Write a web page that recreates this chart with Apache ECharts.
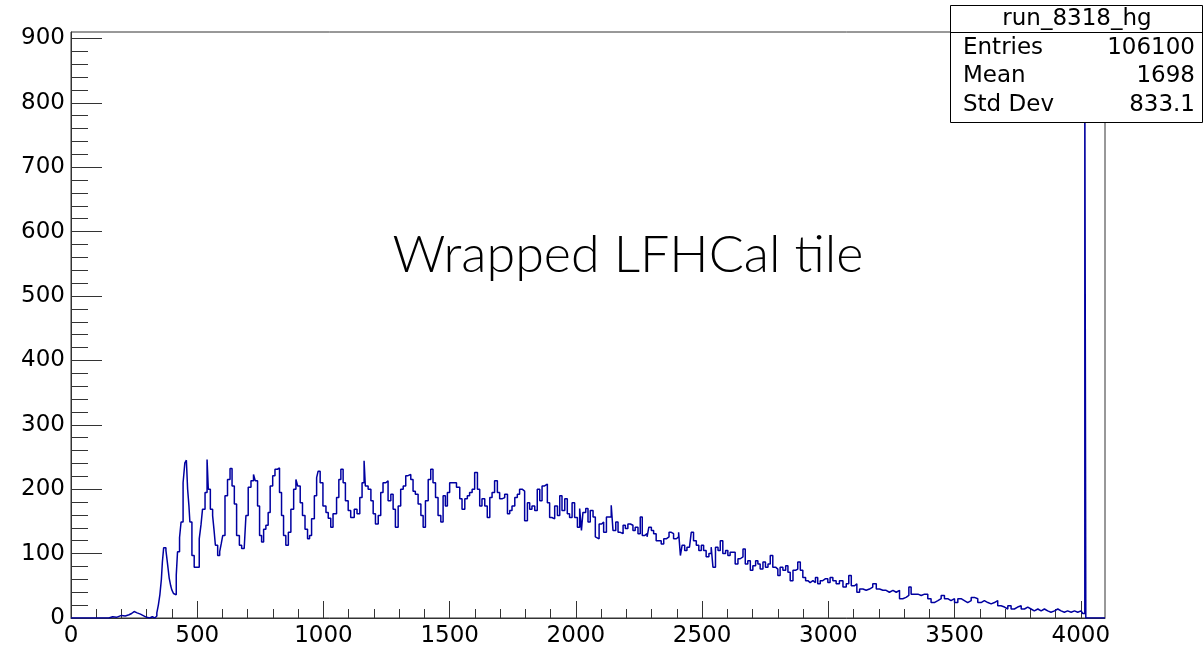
<!DOCTYPE html>
<html>
<head>
<meta charset="utf-8">
<script src="https://cdn.jsdelivr.net/npm/echarts@6/dist/echarts.min.js"></script>
<style>
  html, body { margin: 0; padding: 0; background: #fff; }
  #chart { width: 1204px; height: 648px; }
</style>
</head>
<body>
<div id="chart"></div>
<script>
// ---- Data: histogram bins as [low edge, counts] ----
const pedestalBins = [
  [0,0],[150,2],[165,1],[180,4],[200,3],[215,5],[230,7],[240,10],[250,8],[262,6],
  [275,3],[290,1],[300,0],[312,2],[322,0],[332,3],[340,8],[346,20],[352,36],[358,60]
];
const peakBins = [
  [362,87],[367,109],[376,105],[383,82],[389,62],[395,50],[399,44],[406,38],[412,36],[417,67],
  [422,103],[430,125],[436,149],[444,210],[451,241],[457,245],[462,200],[467,175],[471,149],[479,97],
  [488,79],[499,79],[508,123],[515,145],[521,169],[531,195],[539,246],[544,200],[552,169],[561,159],
  [567,135],[572,113],[581,97],[589,103],[595,115],[601,128],[610,190],[620,215],[630,232],[638,205],
  [647,177],[656,128],[667,113],[676,108],[686,108],[693,159],[702,203],[713,213],[723,223],[730,213],
  [739,174],[747,128],[755,118],[763,138],[772,144],[781,164],[789,205],[799,221],[808,231],[818,233],
  [826,195],[834,159],[842,128],[851,113],[861,133],[871,169],[882,200],[891,215],[898,205],[908,179],
  [917,159],[927,138],[937,123],[945,128],[953,154],[964,190],[973,218],[979,228],[987,210],[998,174],
  [1010,164],[1019,155],[1029,141],[1038,162],[1052,187],[1061,215],[1069,231],[1078,210],[1087,182],[1098,167],
  [1108,156],[1122,169],[1133,162],[1144,187],[1153,210],[1161,244],[1166,205],[1177,200],[1188,182],[1197,162],
  [1206,146],[1217,159],[1227,195],[1236,210],[1247,213],[1256,182],[1267,192],[1276,169],[1285,141],[1296,174],
  [1306,200],[1316,205],[1326,221],[1335,223],[1346,215],[1355,197],[1364,192],[1375,177],[1386,159],[1395,141],
  [1404,182],[1415,215],[1425,231],[1434,210],[1444,187],[1454,159],[1465,149],[1474,190],[1483,174],[1491,195]
];
const plateauBins = [
  [1500,210],[1513,210],[1527,203],[1540,185],[1549,169],[1560,185],[1570,190],[1579,195],[1589,200],[1599,226],
  [1610,200],[1619,174],[1628,185],[1639,174],[1649,156],[1659,187],[1668,195],[1678,213],[1689,195],[1698,185],
  [1707,187],[1718,192],[1729,162],[1738,167],[1747,174],[1758,187],[1768,192],[1777,200],[1787,197],[1797,151],
  [1808,179],[1817,169],[1826,174],[1837,167],[1847,200],[1857,182],[1866,205],[1876,208],[1887,179],[1896,156],
  [1905,154],[1916,174],[1927,159],[1936,190],[1945,167],[1956,185],[1966,162],[1975,156],[1985,179],[1995,156],
  [2006,141],[2015,170],[2022,136],[2028,164],[2039,170],[2048,149],[2057,167],[2068,157],[2077,126],[2084,123],
  [2092,146],[2102,149],[2110,133],[2121,157],[2131,157],[2140,175],[2147,136],[2158,149],[2167,133],[2176,131],
  [2187,144],[2196,139],[2206,146],[2216,144],[2226,136],[2235,141],[2246,131],[2255,157],[2263,128],[2272,131],
  [2282,126],[2289,141],[2299,136],[2308,131],[2318,120],[2329,120],[2338,115],[2348,123],[2358,126],[2369,133],
  [2378,131],[2387,123],[2398,126],[2407,133],[2414,97],[2421,113],[2431,105],[2440,110],[2450,113],[2457,133],
  [2466,120],[2477,113],[2487,105],[2497,113]
];
const tailBins = [
  [2506,105],[2516,95],[2527,100],[2536,110],[2543,79],[2553,110],[2563,105],[2572,120],[2582,100],[2593,105],
  [2602,97],[2611,102],[2622,102],[2631,84],[2642,92],[2651,95],[2662,107],[2671,84],[2681,89],[2691,74],
  [2701,81],[2712,89],[2721,84],[2730,76],[2741,87],[2751,79],[2761,84],[2770,97],[2780,79],[2791,76],
  [2800,66],[2809,79],[2820,74],[2831,81],[2840,71],[2849,58],[2860,74],[2870,76],[2879,87],[2889,74],
  [2899,63],[2910,58],[2919,55],[2928,58],[2939,55],[2949,63],[2958,53],[2968,58],[2978,61],[2989,61],
  [2998,55],[3007,63],[3018,58],[3031,53],[3044,58],[3058,48],[3071,53],[3081,66],[3091,50],[3104,53],
  [3113,40],[3124,45],[3137,43],[3150,45],[3163,48],[3176,53],[3190,45],[3203,43],[3216,43],[3229,40],
  [3242,43],[3256,40],[3269,43],[3282,30],[3295,32],[3308,35],[3319,48],[3328,37],[3341,37],[3355,35],
  [3368,37],[3381,37],[3394,30],[3407,24],[3420,27],[3434,30],[3447,35],[3460,30],[3473,27],[3486,30],
  [3500,24],[3513,30],[3526,27],[3539,24],[3552,27],[3566,32],[3579,30],[3592,24],[3605,27],[3618,24],
  [3632,22],[3645,24],[3658,27],[3671,19],[3684,17],[3698,14],[3711,19],[3724,14],[3737,17],[3750,19],
  [3764,14],[3777,17],[3790,14],[3803,11],[3816,14],[3830,11],[3843,14],[3856,11],[3869,9],[3882,11],
  [3896,14],[3909,11],[3922,9],[3935,11],[3948,9],[3962,11],[3975,9],[3988,11],[4001,9],[4008,7]
];
const overflowBins = [[4016,867],[4020,0],[4096,0]];

const xRange = [0, 4096];
const yRange = [0, 910];
const xMajorTicks = [0, 500, 1000, 1500, 2000, 2500, 3000, 3500, 4000];
const yMajorTicks = [0, 100, 200, 300, 400, 500, 600, 700, 800, 900];
const xMinorStep = 100;
const yMinorStep = 20;

const histName = 'run_8318_hg';
const statLabels = ['Entries', 'Mean', 'Std Dev'];
const statValues = ['106100', '1698', '833.1'];
const chartLabel = 'Wrapped LFHCal tile';

// ---- build ----
const allBins = [].concat(pedestalBins, peakBins, plateauBins, tailBins, overflowBins);
const xMinorTicks = [];
for (let v = xRange[0]; v <= xRange[1]; v += xMinorStep) xMinorTicks.push(v);
const yMinorTicks = [];
for (let v = yRange[0]; v <= yRange[1]; v += yMinorStep) yMinorTicks.push(v);

const FONT = '"DejaVu Sans", "Liberation Sans", Arial, sans-serif';
const AX = '#333';

const chart = echarts.init(document.getElementById('chart'), null, { renderer: 'canvas' });
const gridL = 71, gridT = 32, gridR = 99, gridB = 30;

chart.setOption({
  animation: false,
  backgroundColor: '#fff',
  grid: { left: gridL, right: gridR, top: gridT, bottom: gridB, show: true,
          borderColor: AX, borderWidth: 1, backgroundColor: 'transparent' },
  xAxis: [
    { type: 'value', min: xRange[0], max: xRange[1], position: 'bottom',
      axisLine: { show: true, onZero: false, lineStyle: { color: AX, width: 1 } },
      splitLine: { show: false },
      axisTick: { show: true, inside: true, length: 17, customValues: xMajorTicks, lineStyle: { color: AX, width: 1 } },
      axisLabel: { show: true, customValues: xMajorTicks, margin: 7, color: '#000', fontSize: 23, fontFamily: FONT,
                   formatter: v => String(v) } },
    { type: 'value', min: xRange[0], max: xRange[1], position: 'bottom',
      axisLine: { show: false }, splitLine: { show: false }, axisLabel: { show: false },
      axisTick: { show: true, inside: true, length: 9, customValues: xMinorTicks, lineStyle: { color: AX, width: 1 } } }
  ],
  yAxis: [
    { type: 'value', min: yRange[0], max: yRange[1], position: 'left',
      axisLine: { show: true, onZero: false, lineStyle: { color: AX, width: 1 } },
      splitLine: { show: false },
      axisTick: { show: true, inside: true, length: 31, customValues: yMajorTicks, lineStyle: { color: AX, width: 1 } },
      axisLabel: { show: true, customValues: yMajorTicks, margin: 6, color: '#000', fontSize: 23, fontFamily: FONT,
                   formatter: v => String(v) } },
    { type: 'value', min: yRange[0], max: yRange[1], position: 'left',
      axisLine: { show: false }, splitLine: { show: false }, axisLabel: { show: false },
      axisTick: { show: true, inside: true, length: 17, customValues: yMinorTicks, lineStyle: { color: AX, width: 1 } } }
  ],
  series: [{
    name: histName, type: 'line', step: 'end', xAxisIndex: 0, yAxisIndex: 0,
    data: allBins, showSymbol: false, symbol: 'none', clip: true,
    lineStyle: { color: '#0000a0', width: 1.5 }, z: 3
  }],
  graphic: [
    { type: 'text', z: 10, x: 628, y: 255,
      style: { text: chartLabel, fill: '#000', font: '300 52px Lato, "Open Sans", sans-serif',
               align: 'center', verticalAlign: 'middle' } },
    { type: 'rect', z: 20, shape: { x: 950.5, y: 5.5, width: 252, height: 117 },
      style: { fill: '#fff', stroke: '#000', lineWidth: 1 } },
    { type: 'line', z: 21, shape: { x1: 950.5, y1: 32.5, x2: 1202.5, y2: 32.5 },
      style: { stroke: '#000', lineWidth: 1 } },
    { type: 'text', z: 22, x: 1077, y: 19,
      style: { text: histName, fill: '#000', font: '23px ' + FONT, align: 'center', verticalAlign: 'middle' } },
    ...statLabels.map((s, i) => ({ type: 'text', z: 22, x: 963, y: 48 + i * 28.5,
      style: { text: s, fill: '#000', font: '23px ' + FONT, align: 'left', verticalAlign: 'middle' } })),
    ...statValues.map((s, i) => ({ type: 'text', z: 22, x: 1195, y: 48 + i * 28.5,
      style: { text: s, fill: '#000', font: '23px ' + FONT, align: 'right', verticalAlign: 'middle' } }))
  ]
});
</script>
</body>
</html>
